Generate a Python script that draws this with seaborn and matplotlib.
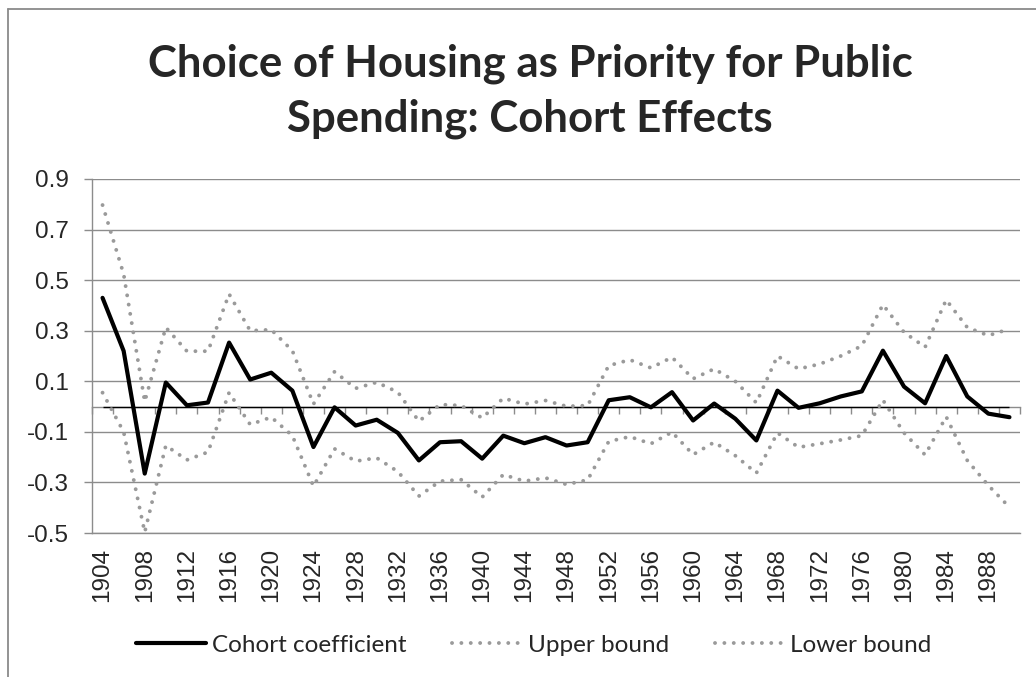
import numpy as np
import pandas as pd
import matplotlib
matplotlib.use("Agg")
import matplotlib.pyplot as plt
import matplotlib.ticker as ticker
import seaborn as sns

years = [1904, 1906, 1908, 1910, 1912, 1914, 1916, 1918, 1920, 1922,
         1924, 1926, 1928, 1930, 1932, 1934, 1936, 1938, 1940, 1942,
         1944, 1946, 1948, 1950, 1952, 1954, 1956, 1958, 1960, 1962,
         1964, 1966, 1968, 1970, 1972, 1974, 1976, 1978, 1980, 1982,
         1984, 1986, 1988, 1990]
coef = [0.43, 0.22, -0.265, 0.095, 0.005, 0.016, 0.253, 0.107, 0.134, 0.063,
        -0.16, -0.003, -0.075, -0.052, -0.104, -0.213, -0.141, -0.137, -0.206, -0.115,
        -0.145, -0.121, -0.154, -0.141, 0.025, 0.037, -0.003, 0.057, -0.055, 0.012,
        -0.048, -0.134, 0.063, -0.005, 0.013, 0.04, 0.06, 0.221, 0.079, 0.013,
        0.2, 0.04, -0.028, -0.042]
upper = [0.797, 0.524, 0.02, 0.313, 0.219, 0.219, 0.445, 0.3, 0.304, 0.221,
         0.01, 0.138, 0.072, 0.096, 0.057, -0.058, 0.008, 0.004, -0.045, 0.033,
         0.01, 0.024, 0.001, 0.004, 0.162, 0.185, 0.153, 0.195, 0.11, 0.149,
         0.1, 0.015, 0.2, 0.149, 0.168, 0.2, 0.24, 0.403, 0.294, 0.235,
         0.422, 0.313, 0.281, 0.307]
lower = [0.055, -0.1, -0.497, -0.154, -0.211, -0.18, 0.055, -0.071, -0.042, -0.115,
         -0.315, -0.167, -0.216, -0.203, -0.257, -0.354, -0.295, -0.289, -0.358, -0.269,
         -0.295, -0.282, -0.308, -0.29, -0.138, -0.119, -0.147, -0.101, -0.19, -0.141,
         -0.194, -0.263, -0.104, -0.161, -0.147, -0.132, -0.115, 0.026, -0.104, -0.191,
         -0.04, -0.213, -0.312, -0.398]
yticks = [-0.5, -0.3, -0.1, 0.1, 0.3, 0.5, 0.7, 0.9]
title = "Choice of Housing as Priority for Public\nSpending: Cohort Effects"

df = pd.DataFrame({'Year': years, 'Cohort coefficient': coef,
                   'Upper bound': upper, 'Lower bound': lower})

sns.set_style("white")
plt.rcParams['font.family'] = ['Liberation Sans', 'DejaVu Sans']
plt.rcParams['axes.unicode_minus'] = False

grid_c = '#8c8c8c'
dot_c = '#9a9a9a'

fig = plt.figure(figsize=(10.36, 6.77), dpi=100)
ax = fig.add_axes([92/1036, 1 - 533/677, (1020 - 92)/1036, (533 - 179)/677])

sns.lineplot(data=df, x='Year', y='Cohort coefficient', ax=ax, color='black', lw=3,
             label='Cohort coefficient', solid_joinstyle='round', zorder=5)
for col in ['Upper bound', 'Lower bound']:
    sns.lineplot(data=df, x='Year', y=col, ax=ax, color=dot_c, lw=2.8,
                 linestyle=(0, (0.01, 2.4)), dash_capstyle='round', label=col, zorder=4)

ax.hlines(0, years[0], years[-1], color='black', lw=1, zorder=3)

ymin, ymax = yticks[0], yticks[-1]
ax.set_ylim(ymin, ymax)
ax.set_xlim(years[0] - 1, years[-1] + 1)
ax.set_yticks(yticks)
ax.yaxis.set_major_formatter(ticker.FormatStrFormatter('%.1f'))
ax.yaxis.grid(True, color=grid_c, lw=1)
ax.xaxis.grid(False)
for s in ['top', 'right']:
    ax.spines[s].set_visible(False)
for s in ['left', 'bottom']:
    ax.spines[s].set_color(grid_c)
    ax.spines[s].set_linewidth(1)
ax.tick_params(axis='y', direction='out', length=6, width=1, color=grid_c,
               pad=11, labelsize=17.5, left=True)
ax.set_xticks(years[::2])
ax.tick_params(axis='x', length=0, pad=11, labelsize=17.5, labelrotation=90)
ax.set_xlabel('')
ax.set_ylabel('')

# category axis crossing at zero, with ticks between categories
sec = ax.secondary_xaxis((0 - ymin) / (ymax - ymin))
sec.set_xticks([y - 1 for y in years] + [years[-1] + 1])
sec.tick_params(axis='x', direction='out', length=5, width=1, color=grid_c,
                labelbottom=False, labeltop=False)
for s in sec.spines.values():
    s.set_color(grid_c)
    s.set_linewidth(1)

h, l = ax.get_legend_handles_labels()
ax.legend(h, l, loc='center', bbox_to_anchor=(534/1036, 1 - 645/677),
          bbox_transform=fig.transFigure, ncol=3, frameon=False,
          prop={'family': 'Lato', 'size': 17.5}, handlelength=2.85,
          handletextpad=0.25, columnspacing=1.9)

fig.text(530/1036, 1 - 91/677, title, ha='center', va='center', fontsize=31.5,
         fontweight='bold', family='Lato', linespacing=1.45)

# chart frame (cropped at right and bottom)
fig.add_artist(plt.Line2D([8/1036, 8/1036], [0, 1 - 9/677], transform=fig.transFigure,
                          color='#8a8a8a', lw=1.3))
fig.add_artist(plt.Line2D([8/1036, 1], [1 - 9/677, 1 - 9/677], transform=fig.transFigure,
                          color='#8a8a8a', lw=1.3))

fig.savefig('out.png', dpi=100)
